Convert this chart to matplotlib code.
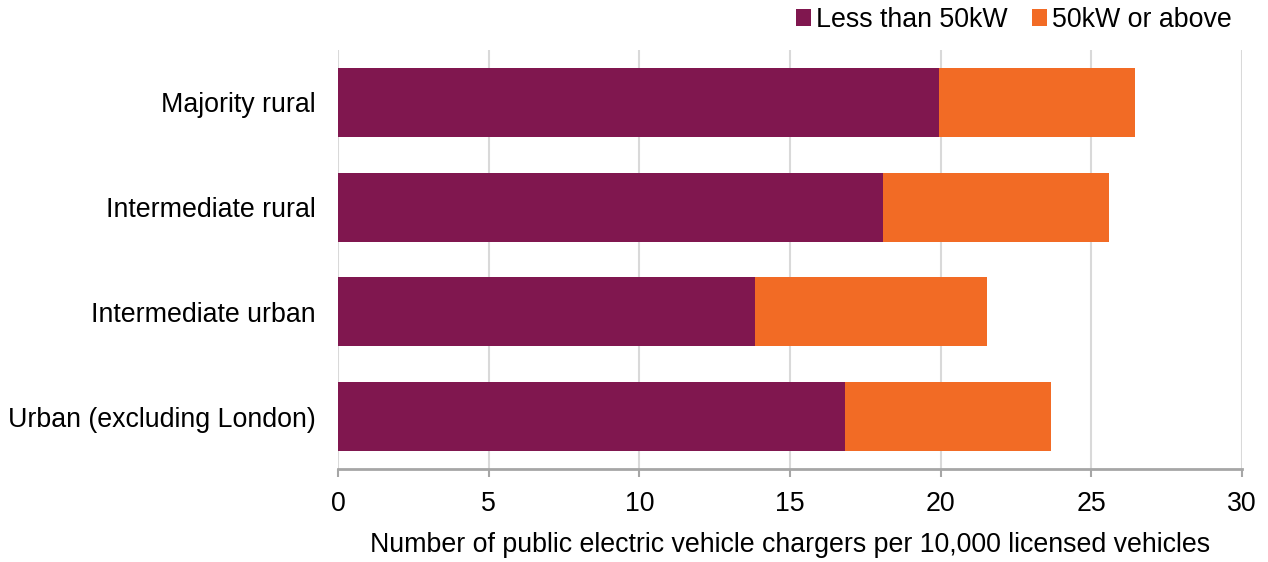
import matplotlib
matplotlib.use('Agg')
import matplotlib.pyplot as plt
import numpy as np

plt.rcParams['font.family'] = ['Liberation Sans', 'DejaVu Sans']
plt.rcParams['font.size'] = 19.3

# Data
categories = ['Majority rural', 'Intermediate rural', 'Intermediate urban', 'Urban (excluding London)']
below_50kw = [19.95, 18.09, 13.84, 16.81]
above_50kw = [6.51, 7.49, 7.69, 6.84]
series_names = ['Less than 50kW', '50kW or above']
colors = ['#80174f', '#f26b25']

fig = plt.figure(figsize=(12.68, 5.62), dpi=100)
ax = fig.add_axes([338 / 1268, 1 - 469 / 562, (1242 - 338) / 1268, (469 - 50) / 562])

y = np.arange(len(categories))
ax.barh(y, below_50kw, height=0.66, color=colors[0], label=series_names[0], zorder=3)
ax.barh(y, above_50kw, left=below_50kw, height=0.66, color=colors[1], label=series_names[1], zorder=3)

ax.set_xlim(0, 30)
ax.set_ylim(3.5, -0.5)
ax.set_xticks(np.arange(0, 31, 5))
ax.set_yticks(y)
ax.set_yticklabels(categories)
ax.xaxis.grid(True, color='#d9d9d9', linewidth=1.5, zorder=0)

for side in ['top', 'right', 'left']:
  ax.spines[side].set_visible(False)
ax.spines['bottom'].set_color('#a6a6a6')
ax.spines['bottom'].set_linewidth(2)
ax.tick_params(axis='x', colors='#a6a6a6', length=6, width=1.5, pad=10, labelcolor='black')
ax.tick_params(axis='y', length=0, pad=16)

ax.set_xlabel('Number of public electric vehicle chargers per 10,000 licensed vehicles', labelpad=11)

ax.legend(loc='center right', bbox_to_anchor=((1232 - 338) / 904, 1 + (50 - 20) / 419), ncol=2, frameon=False,
          handlelength=0.55, handleheight=0.55, handletextpad=0.2, columnspacing=0.9,
          borderaxespad=0, borderpad=0)

fig.savefig('out.png', dpi=100)
